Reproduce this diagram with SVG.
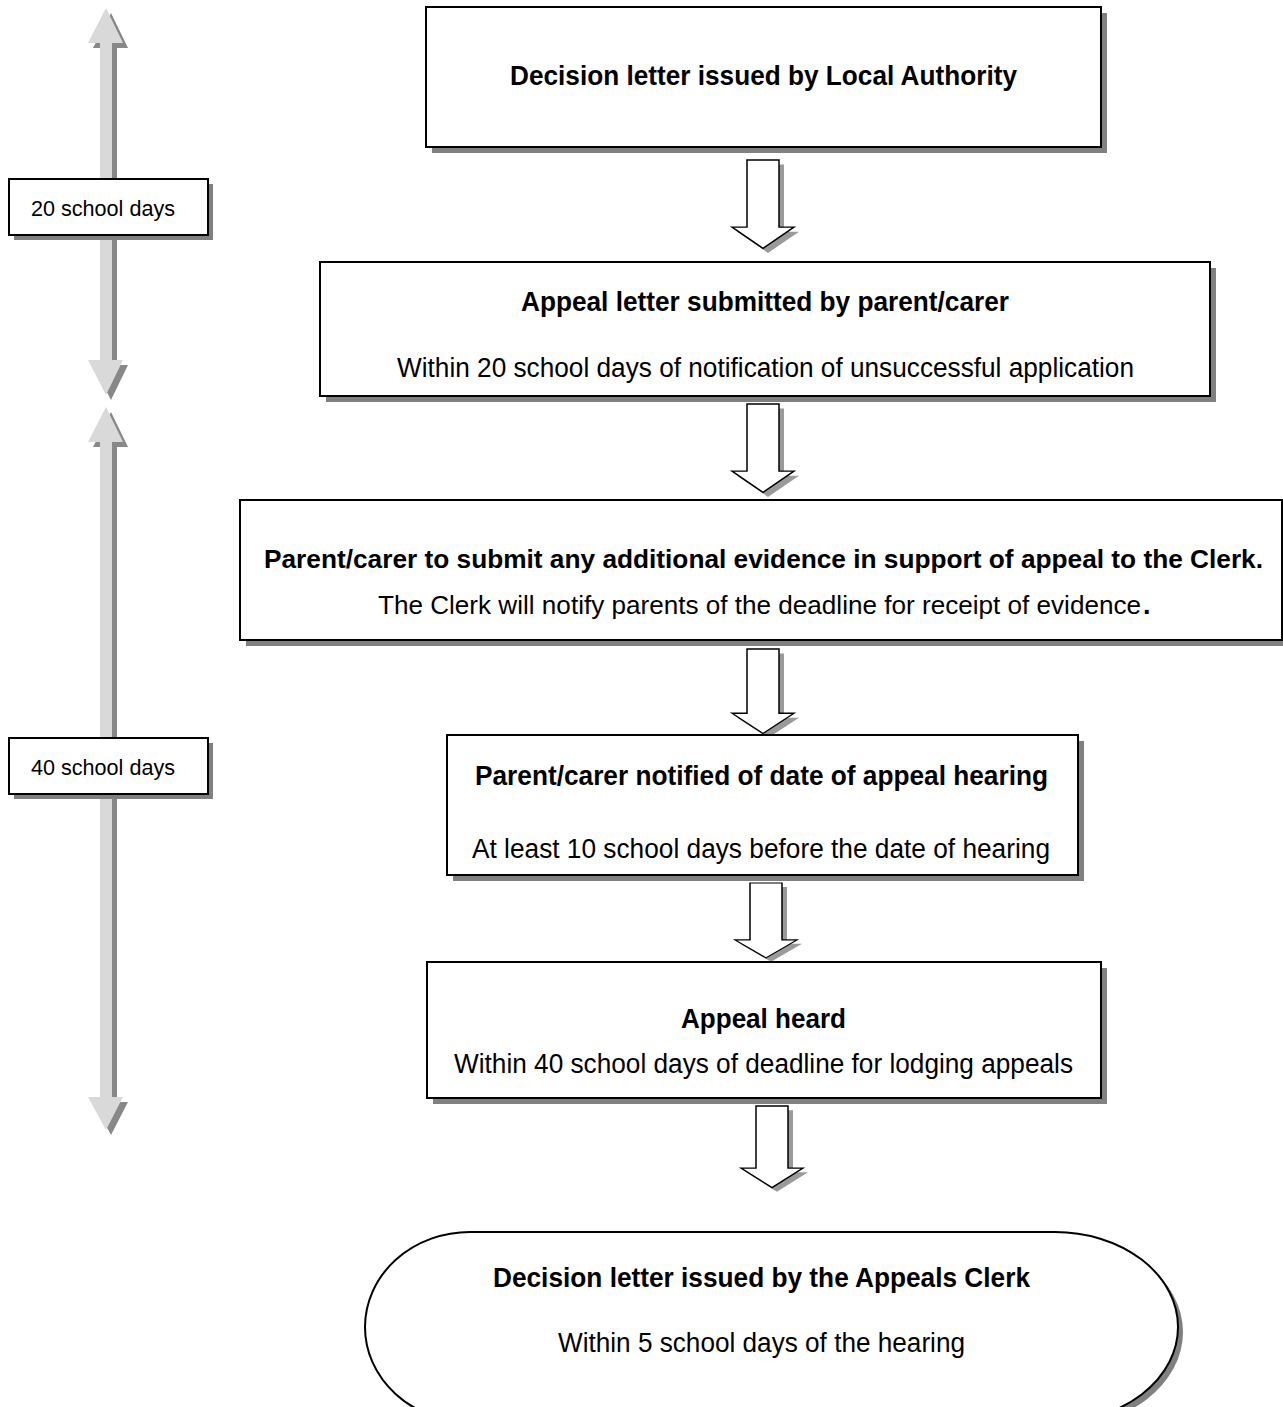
<svg xmlns="http://www.w3.org/2000/svg" width="1283" height="1407" viewBox="0 0 1283 1407">
<style>
.box{fill:#fff;stroke:#000;stroke-width:2}
.sh{fill:#808080}
.ash{fill:#9a9a9a}
.arr{fill:#fff;stroke:#000;stroke-width:1.5;stroke-linejoin:miter}
.bar{fill:#d9d9d9}
.bsh{fill:#888}
text{font-family:"Liberation Sans",Arial,sans-serif;fill:#000}
.b{font-weight:bold;font-size:27px}
.r{font-size:27px}
.l{font-size:22px}
</style>
<defs>
<polygon id="blk" points="-16,0 16,0 16,73 31,73 0,96 -31,73 -16,73"/>
<polygon id="tl1" points="106,8 123,43 112,43 112,360 123,360 106,395 88,360 100,360 100,43 88,43"/>
<polygon id="tl2" points="106,407 123,442 112,442 112,1097 123,1097 106,1130 88,1097 100,1097 100,442 88,442"/>
</defs>
<g id="timeline">
<use href="#tl1" class="bsh" x="5" y="5"/>
<use href="#tl1" class="bar"/>
<use href="#tl2" class="bsh" x="5" y="5"/>
<use href="#tl2" class="bar"/>
</g>
<g id="label20">
<rect x="14" y="184" width="199" height="56" class="sh"/>
<rect x="9" y="179" width="199" height="56" class="box"/>
<text x="31" y="216" class="l" textLength="144" lengthAdjust="spacingAndGlyphs">20 school days</text>
</g>
<g id="label40">
<rect x="14" y="743" width="199" height="56" class="sh"/>
<rect x="9" y="738" width="199" height="56" class="box"/>
<text x="31" y="775" class="l" textLength="144" lengthAdjust="spacingAndGlyphs">40 school days</text>
</g>
<g id="connectors">
<g transform="translate(763,160) scale(1,0.92)"><use href="#blk" class="ash" x="5" y="5"/><use href="#blk" class="arr"/></g>
<g transform="translate(763,404) scale(1,0.92)"><use href="#blk" class="ash" x="5" y="5"/><use href="#blk" class="arr"/></g>
<g transform="translate(763,649) scale(1,0.88)"><use href="#blk" class="ash" x="5" y="5"/><use href="#blk" class="arr"/></g>
<g transform="translate(766,883) scale(1,0.78)"><use href="#blk" class="ash" x="5" y="5"/><use href="#blk" class="arr"/></g>
<g transform="translate(772,1106) scale(1,0.85)"><use href="#blk" class="ash" x="5" y="5"/><use href="#blk" class="arr"/></g>
</g>
<g id="n1">
<rect x="432" y="13" width="675" height="140" class="sh"/>
<rect x="426" y="7" width="675" height="140" class="box"/>
<text x="510" y="85" class="b" textLength="507" lengthAdjust="spacingAndGlyphs">Decision letter issued by Local Authority</text>
</g>
<g id="n2">
<rect x="326" y="268" width="890" height="134" class="sh"/>
<rect x="320" y="262" width="890" height="134" class="box"/>
<text x="521" y="311" class="b" textLength="488" lengthAdjust="spacingAndGlyphs">Appeal letter submitted by parent/carer</text>
<text x="397" y="377" class="r" textLength="737" lengthAdjust="spacingAndGlyphs">Within 20 school days of notification of unsuccessful application</text>
</g>
<g id="n3">
<rect x="246" y="506" width="1042" height="140" class="sh"/>
<rect x="240" y="500" width="1042" height="140" class="box"/>
<text x="264" y="568" class="b" style="font-size:25.5px" textLength="999" lengthAdjust="spacingAndGlyphs">Parent/carer to submit any additional evidence in support of appeal to the Clerk.</text>
<text x="378" y="614" class="r" style="font-size:25.5px" textLength="763" lengthAdjust="spacingAndGlyphs">The Clerk will notify parents of the deadline for receipt of evidence</text>
<text x="1143" y="614" class="b">.</text>
</g>
<g id="n4">
<rect x="453" y="741" width="631" height="140" class="sh"/>
<rect x="447" y="735" width="631" height="140" class="box"/>
<text x="475" y="785" class="b" textLength="573" lengthAdjust="spacingAndGlyphs">Parent/carer notified of date of appeal hearing</text>
<text x="472" y="858" class="r" textLength="578" lengthAdjust="spacingAndGlyphs">At least 10 school days before the date of hearing</text>
</g>
<g id="n5">
<rect x="433" y="968" width="674" height="136" class="sh"/>
<rect x="427" y="962" width="674" height="136" class="box"/>
<text x="681" y="1028" class="b" textLength="165" lengthAdjust="spacingAndGlyphs">Appeal heard</text>
<text x="454" y="1073" class="r" textLength="619" lengthAdjust="spacingAndGlyphs">Within 40 school days of deadline for lodging appeals</text>
</g>
<g id="n6">
<path d="M 475 1237 H 1060 A 123 95 0 0 1 1060 1427 H 475 A 105 95 0 0 1 475 1237 Z" class="sh"/>
<path d="M 470 1232 H 1055 A 123 95 0 0 1 1055 1422 H 470 A 105 95 0 0 1 470 1232 Z" class="box"/>
<text x="493" y="1287" class="b" textLength="537" lengthAdjust="spacingAndGlyphs">Decision letter issued by the Appeals Clerk</text>
<text x="558" y="1352" class="r" textLength="407" lengthAdjust="spacingAndGlyphs">Within 5 school days of the hearing</text>
</g>
</svg>
